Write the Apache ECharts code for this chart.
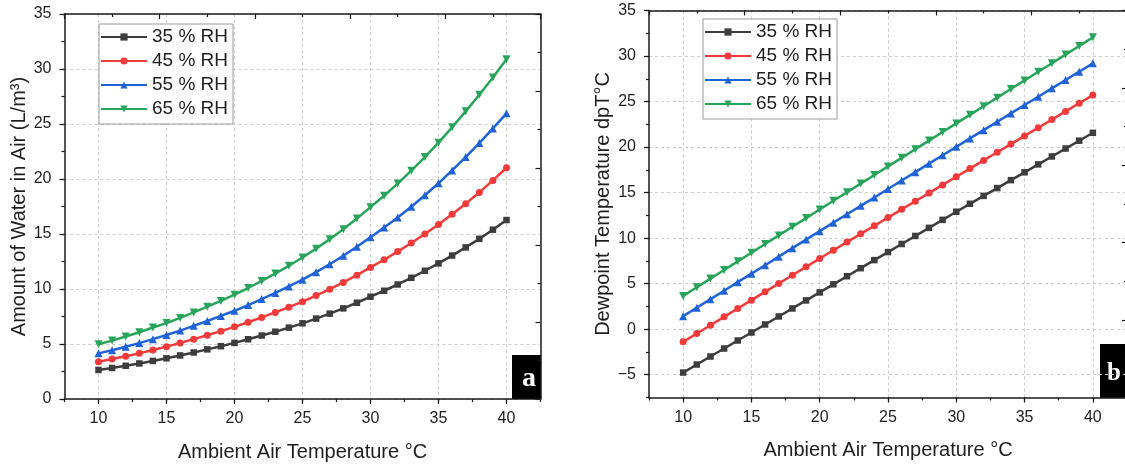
<!DOCTYPE html>
<html><head><meta charset="utf-8">
<script src="https://cdn.jsdelivr.net/npm/echarts@6/dist/echarts.min.js"></script>
<style>html,body{margin:0;padding:0;background:#fff}#c{width:1125px;height:466px}</style>
</head><body><div id="c"></div>
<script>
// ---------------- data ----------------
const temperatures = [10,11,12,13,14,15,16,17,18,19,20,21,22,23,24,25,26,27,28,29,30,31,32,33,34,35,36,37,38,39,40];
const seriesNames = ['35 % RH','45 % RH','55 % RH','65 % RH'];

// panel a: amount of water in air (L/m3)
const water35 = [2.64,2.82,3.02,3.23,3.46,3.70,3.96,4.23,4.51,4.80,5.10,5.43,5.77,6.12,6.49,6.88,7.31,7.76,8.24,8.75,9.30,9.84,10.41,11.02,11.66,12.33,13.04,13.78,14.56,15.39,16.27];
const water45 = [3.39,3.63,3.88,4.15,4.45,4.76,5.09,5.44,5.80,6.17,6.56,6.98,7.42,7.87,8.35,8.85,9.40,9.98,10.60,11.26,11.96,12.66,13.40,14.18,15.00,15.87,16.80,17.76,18.78,19.87,21.02];
const water55 = [4.15,4.43,4.75,5.08,5.44,5.82,6.22,6.65,7.09,7.55,8.02,8.54,9.08,9.64,10.23,10.85,11.53,12.25,13.02,13.84,14.71,15.58,16.50,17.48,18.52,19.61,20.78,21.99,23.27,24.60,25.97];
const water65 = [4.97,5.31,5.68,6.07,6.50,6.90,7.37,7.87,8.39,8.92,9.48,10.09,10.73,11.40,12.11,12.86,13.67,14.52,15.43,16.40,17.44,18.48,19.58,20.76,21.99,23.30,24.70,26.15,27.66,29.23,30.88];

// panel b: dewpoint temperature (°C)
const dew35 = [-4.76,-3.88,-3.00,-2.12,-1.24,-0.36,0.52,1.40,2.28,3.16,4.04,4.93,5.82,6.70,7.59,8.47,9.36,10.24,11.13,12.01,12.90,13.77,14.64,15.50,16.37,17.23,18.10,18.97,19.84,20.70,21.57];
const dew45 = [-1.39,-0.47,0.44,1.36,2.27,3.19,4.10,5.02,5.93,6.85,7.77,8.67,9.57,10.47,11.36,12.26,13.16,14.05,14.95,15.85,16.74,17.64,18.54,19.43,20.33,21.23,22.12,23.02,23.92,24.81,25.71];
const dew55 = [1.43,2.36,3.30,4.23,5.17,6.10,7.03,7.97,8.90,9.84,10.77,11.70,12.62,13.55,14.47,15.40,16.33,17.25,18.18,19.10,20.03,20.95,21.86,22.78,23.70,24.62,25.53,26.45,27.37,28.28,29.20];
const dew65 = [3.66,4.61,5.56,6.50,7.45,8.40,9.35,10.30,11.25,12.20,13.15,14.10,15.04,15.99,16.93,17.88,18.82,19.77,20.71,21.66,22.60,23.54,24.49,25.43,26.38,27.32,28.27,29.21,30.16,31.10,32.05];

// tick labels
const xTickValues = [10,15,20,25,30,35,40];
const waterTickValues = [0,5,10,15,20,25,30,35];
const dewTickValues = [-5,0,5,10,15,20,25,30,35];

const xTitle = 'Ambient Air Temperature °C';
const waterTitle = 'Amount of Water in Air (L/m³)';
const dewTitle = 'Dewpoint Temperature dpT°C';
const panelTags = ['a','b'];

// ---------------- styling ----------------
const FONT = '"Liberation Sans", Arial, sans-serif';
const AX = '#1a1a1a';
const GRIDC = '#cdcdcd';
const colors = ['#3d3d3d', '#f23a3a', '#1f63d6', '#28a45a'];
const symbols = ['rect', 'circle', 'triangle', 'triangle'];
const symRot = [0, 0, 0, 180];
const symSize = [6.5, 7, 8, 8];
const fmtNum = v => String(v).replace('-', '\u2212');

function axesFor(gi, yMin, yMax, yTicks, ySplitColors, yName, yNameGap) {
  const lineStyle = {color: AX, width: 1.5};
  const tickStyle = {color: AX, width: 1.2};
  const xs = [
    { type:'value', gridIndex:gi, position:'bottom', min:7.5, max:42.5, interval:2.5,
      axisLine:{show:true, onZero:false, lineStyle},
      axisTick:{show:true, length:3, lineStyle:tickStyle},
      axisLabel:{show:true, customValues:xTickValues, margin:12, fontSize:16, color:'#1e1e1e', fontFamily:FONT, formatter:fmtNum},
      splitLine:{show:true, lineStyle:{color:['rgba(0,0,0,0)', GRIDC], type:[3,3], width:1}},
      name:xTitle, nameLocation:'middle', nameGap:43,
      nameTextStyle:{fontSize:20, color:'#1e1e1e', fontFamily:FONT} },
    { type:'value', gridIndex:gi, position:'bottom', min:7.5, max:42.5,
      axisLine:{show:false, onZero:false},
      axisTick:{show:true, customValues:xTickValues, length:5, lineStyle:tickStyle},
      axisLabel:{show:false}, splitLine:{show:false} },
    { type:'value', gridIndex:gi, position:'top', min:0, max:10, interval:2,
      axisLine:{show:true, onZero:false, lineStyle},
      axisTick:{show:true, inside:true, length:5, lineStyle:tickStyle},
      minorTick:{show:true, splitNumber:2, length:3, lineStyle:tickStyle},
      axisLabel:{show:false}, splitLine:{show:false} }
  ];
  const ys = [
    { type:'value', gridIndex:gi, position:'left', min:yMin, max:yMax, interval:2.5,
      axisLine:{show:true, onZero:false, lineStyle},
      axisTick:{show:true, length:3, lineStyle:tickStyle},
      axisLabel:{show:true, customValues:yTicks, margin:13, fontSize:16, color:'#1e1e1e', fontFamily:FONT, formatter:fmtNum},
      splitLine:{show:true, lineStyle:{color:ySplitColors, type:[3,3], width:1}},
      name:yName, nameLocation:'middle', nameGap:yNameGap,
      nameTextStyle:{fontSize:20, color:'#1e1e1e', fontFamily:FONT} },
    { type:'value', gridIndex:gi, position:'left', min:yMin, max:yMax,
      axisLine:{show:false, onZero:false},
      axisTick:{show:true, customValues:yTicks, length:5, lineStyle:tickStyle},
      axisLabel:{show:false}, splitLine:{show:false} },
    { type:'value', gridIndex:gi, position:'right', min:0, max:10, interval:2,
      axisLine:{show:true, onZero:false, lineStyle},
      axisTick:{show:true, inside:true, length:5, lineStyle:tickStyle},
      minorTick:{show:true, splitNumber:2, length:3, lineStyle:tickStyle},
      axisLabel:{show:false}, splitLine:{show:false} }
  ];
  return {xs, ys};
}

const A = axesFor(0, 0, 35, waterTickValues, [GRIDC, 'rgba(0,0,0,0)'], waterTitle, 34);
const B = axesFor(1, -7.5, 35, dewTickValues, ['rgba(0,0,0,0)', GRIDC], dewTitle, 36);

const waterSets = [water35, water45, water55, water65];
const dewSets = [dew35, dew45, dew55, dew65];

function mkSeries(gi, sets) {
  return sets.map((vals, k) => ({
    type:'line', name:seriesNames[k], xAxisIndex:gi*3, yAxisIndex:gi*3,
    data: temperatures.map((t, i) => [t, vals[i]]),
    symbol:symbols[k], symbolRotate:symRot[k], symbolSize:symSize[k], showAllSymbol:true,
    lineStyle:{color:colors[k], width:2.5},
    itemStyle:{color:colors[k]},
    z: 3 + k
  }));
}

function mkLegend(left, top) {
  return {
    orient:'vertical', left, top, data:seriesNames,
    itemWidth:46, itemHeight:9, itemGap:4,
    padding:[3,5,5,1],
    borderColor:'#9a9a9a', borderWidth:1, backgroundColor:'#fff',
    textStyle:{fontSize:19, lineHeight:20, color:'#1e1e1e', fontFamily:FONT},
    selectedMode:false
  };
}

function tagBox(x, y, w, h, letter, fs, tx, ty) {
  return {
    type:'group', z:100,
    children:[
      {type:'rect', shape:{x, y, width:w, height:h}, style:{fill:'#000'}},
      {type:'text', x:tx, y:ty, style:{text:letter, fill:'#fff',
        font:'bold ' + fs + 'px "Liberation Serif", "Times New Roman", serif',
        textAlign:'center', textVerticalAlign:'middle', align:'center', verticalAlign:'middle'}}
    ]
  };
}

const chart = echarts.init(document.getElementById('c'), null, {renderer:'canvas'});
chart.setOption({
  animation:false,
  backgroundColor:'#fff',
  textStyle:{fontFamily:FONT},
  grid:[
    {left:64.5, top:14, width:476, height:385, outerBoundsMode:'none', containLabel:false},
    {left:649, top:10.5, width:478, height:387, outerBoundsMode:'none', containLabel:false}
  ],
  xAxis:[...A.xs, ...B.xs],
  yAxis:[...A.ys, ...B.ys],
  legend:[mkLegend(99, 24), mkLegend(703, 19)],
  series:[...mkSeries(0, waterSets), ...mkSeries(1, dewSets)],
  graphic:[
    tagBox(512, 355, 29, 44, panelTags[0], 28, 529, 379),
    tagBox(1100, 344, 30, 54, panelTags[1], 25, 1114, 374)
  ]
});
</script>
</body></html>
